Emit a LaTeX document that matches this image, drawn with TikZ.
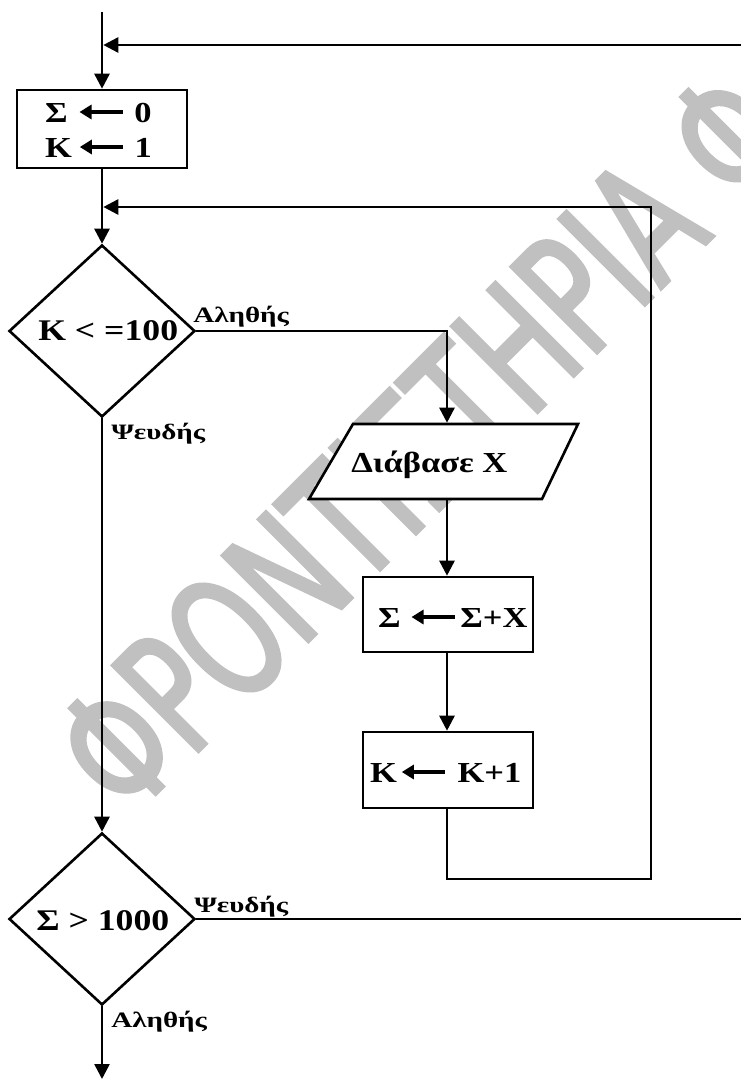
\documentclass[tikz,border=0pt]{standalone}
\usepackage{fontspec}
\setmainfont{Liberation Serif}
\newfontfamily\mainf{Liberation Serif}[FakeStretch=1.19]
\newfontfamily\lblf{Liberation Serif}[FakeStretch=1.32]
\newfontfamily\wmfont{DejaVu Sans}[FakeStretch=0.67,FakeBold=2]
\usetikzlibrary{arrows.meta,shapes.geometric,calc}
\definecolor{wmgray}{RGB}{192,192,192}
\newcommand\asgn{\tikz[baseline=-10pt]\draw[line width=3.5pt,-{Triangle[length=12pt,width=14pt]}] (43pt,0pt) -- (0pt,0pt);}
\begin{document}
\begin{tikzpicture}[x=1pt,y=-1pt,line width=2.6pt,
  box/.style={draw,fill=white,rectangle,inner sep=0pt,minimum width=170pt},
  dia/.style={draw,fill=white,diamond,inner sep=0pt,minimum width=186pt,minimum height=172pt},
  txt/.style={inner sep=0pt,anchor=base west,font=\mainf\bfseries\fontsize{29}{35}\selectfont},
  big/.style={inner sep=0pt,anchor=base west,font=\mainf\bfseries\fontsize{30}{36}\selectfont},
  lbl/.style={inner sep=0pt,anchor=base west,font=\lblf\bfseries\fontsize{22}{26}\selectfont},
  arr/.style={-{Triangle[length=15pt,width=15pt]}}]
\useasboundingbox (0,0) rectangle (741,1079);
\fill[white] (0,0) rectangle (741,1079);
% watermark
\begin{scope}
\clip (0,0) rectangle (741,1079);
\node[inner sep=0pt,anchor=base west,rotate=45,text=wmgray,font=\wmfont\fontsize{167}{170}\selectfont] (wm) at (127.5,822.5) {ΦΡΟΝΤΙΣΤΗΡΙΑ Φ};
\end{scope}
% coordinates
\coordinate (top) at (102,12);
\coordinate (e1) at (741,45);
\coordinate (j1) at (103.3,45);
\coordinate (c1) at (651,879);
\coordinate (c2) at (651,207);
\coordinate (j2) at (103.3,207);
\coordinate (e2) at (741,919);
\coordinate (bot) at (102,1079);
% shapes
\node[box,minimum height=78pt] (b1) at (102,129) {};
\node[dia] (d1) at (102,331) {};
\node[dia] (d2) at (102,919) {};
\draw[fill=white] (309,499) -- (353,424) -- (578,424) -- (542,499) -- cycle;
\node[inner sep=0pt,minimum width=200pt,minimum height=75pt] (rd) at (447,461.5) {};
\node[box,minimum height=75pt] (b2) at (448,614.5) {};
\node[box,minimum height=76pt] (b3) at (448,770) {};
% texts
\node[txt] (t1) at (45,122) {Σ\hspace{10pt}\asgn\hspace{10pt}0};
\node[txt] (t2) at (45,157) {K\hspace{6pt}\asgn\hspace{10pt}1};
\node[big] (t3) at (37,340) {K < =100};
\node[txt] (t4) at (350,472) {Διάβασε X};
\node[txt] (t5) at (378,627) {Σ\hspace{9pt}\asgn\hspace{4pt}Σ+X};
\node[txt] (t6) at (370,782) {K\hspace{3pt}\asgn\hspace{11pt}K+1};
\node[big] (t7) at (35,930) {Σ > 1000};
\node[lbl] (l1) at (192,322) {Αληθής};
\node[lbl] (l2) at (110,439) {Ψευδής};
\node[lbl] (l3) at (193,912) {Ψευδής};
\node[lbl] (l4) at (110,1027) {Αληθής};
% connectors
\draw[arr] (top) -- (b1.north);
\draw[arr] (e1) -- (j1);
\draw[arr] (b1.south) -- (d1.north);
\draw[arr] (d1.east) -| (rd.north);
\draw[arr] (rd.south) -- (rd.south |- b2.north);
\draw[arr] (rd.south |- b2.south) -- (rd.south |- b3.north);
\draw[arr] (rd.south |- b3.south) |- (c1) -- (c2) -- (j2);
\draw[arr] (d1.south) -- (d2.north);
\draw (d2.east) -- (e2);
\draw[arr] (d2.south) -- (bot);
\end{tikzpicture}
\end{document}
